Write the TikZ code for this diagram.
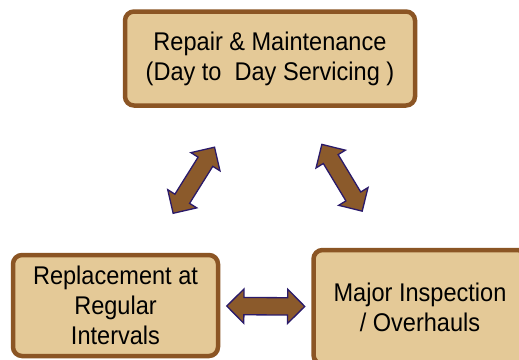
\documentclass[tikz,border=0pt]{standalone}
\usepackage{fontspec}
\setmainfont{Liberation Sans}[FakeStretch=0.92]
\usetikzlibrary{
    positioning, % for placing the boxes relative to the top one
    shapes.arrows % for the fat double arrows between the boxes
}
\definecolor{boxbrown}{HTML}{8B5524}
\definecolor{boxtan}{HTML}{E4C997}
\definecolor{arrowbrown}{HTML}{8B5A2B}
\definecolor{arrowline}{HTML}{2A1A6A}

\begin{document}
\begin{tikzpicture}[
        x=1pt,y=1pt,on grid,
        task/.style   = {draw=boxbrown,line width=4.5pt,fill=boxtan,rounded corners=9pt,
                         align=center,font=\fontsize{25.6}{30}\selectfont,inner sep=0pt},
        twoway/.style = {double arrow,draw=arrowline,line width=1.3pt,fill=arrowbrown,
                         minimum height=78pt,minimum width=33pt,double arrow head extend=8.5pt,
                         inner xsep=0pt,inner ysep=8pt}
    ]
    \useasboundingbox (0,0) rectangle (519,-359);

    % the three kinds of upkeep

        \node [task,minimum width=290pt,minimum height=94pt] (repair) at (270,-58.5)
            {Repair \& Maintenance\\(Day to~ Day Servicing )};
        \node [task,minimum width=205pt,minimum height=101pt] (replace)
            [below left=247pt and 154.5pt of repair] {Replacement at\\Regular\\Intervals};
        \node [task,minimum width=213pt,minimum height=114pt] (overhaul)
            [below right=248.5pt and 150pt of repair] {Major Inspection\\/ Overhauls};

    % arrows both ways

        \path (repair)  -- node [twoway,sloped] {} (replace);
        \path (repair)  -- node [twoway,sloped] {} (overhaul);
        \path (replace) -- node [twoway,sloped] {} (overhaul);

\end{tikzpicture}
\end{document}
